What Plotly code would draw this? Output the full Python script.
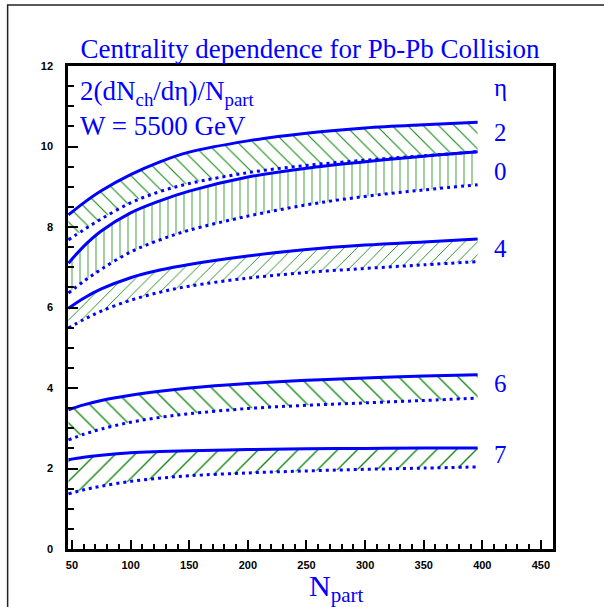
import plotly.graph_objects as go

# ---- data ----
npart = [47, 60, 75, 100, 125, 150, 200, 250, 300, 350, 396]

eta2_hi = [8.30, 8.60, 8.90, 9.30, 9.62, 9.86, 10.14, 10.33, 10.46, 10.54, 10.60]
eta2_lo = [7.68, 7.93, 8.20, 8.60, 8.88, 9.08, 9.35, 9.53, 9.66, 9.77, 9.87]
eta0_hi = [7.10, 7.52, 7.90, 8.35, 8.65, 8.89, 9.24, 9.46, 9.62, 9.76, 9.87]
eta0_lo = [6.36, 6.65, 6.95, 7.38, 7.68, 7.92, 8.27, 8.55, 8.76, 8.92, 9.05]
eta4_hi = [5.98, 6.23, 6.46, 6.74, 6.93, 7.07, 7.28, 7.44, 7.55, 7.63, 7.70]
eta4_lo = [5.49, 5.70, 5.91, 6.18, 6.38, 6.53, 6.73, 6.87, 6.97, 7.06, 7.14]
eta6_hi = [3.46, 3.58, 3.69, 3.82, 3.92, 4.00, 4.11, 4.19, 4.25, 4.30, 4.33]
eta6_lo = [2.71, 2.85, 2.98, 3.15, 3.27, 3.36, 3.49, 3.57, 3.63, 3.69, 3.75]
eta7_hi = [2.22, 2.28, 2.33, 2.39, 2.42, 2.44, 2.47, 2.49, 2.50, 2.51, 2.51]
eta7_lo = [1.37, 1.47, 1.56, 1.68, 1.76, 1.82, 1.89, 1.94, 1.98, 2.01, 2.04]

bands = [
    (eta2_lo, eta2_hi, "\\", 11),
    (eta0_lo, eta0_hi, "|", 8),
    (eta4_lo, eta4_hi, "/", 9),
    (eta6_lo, eta6_hi, "\\", 14),
    (eta7_lo, eta7_hi, "/", 14),
]
band_labels = ["2", "0", "4", "6", "7"]
label_y = [10.34, 9.38, 7.46, 4.10, 2.34]

x_ticks = [50, 100, 150, 200, 250, 300, 350, 400, 450]
y_ticks = [0, 2, 4, 6, 8, 10, 12]

BLUE = "#0000ff"
GREEN = "#138a13"
serif = "Liberation Serif, Times New Roman, serif"

fig = go.Figure()
for lo, hi, shape, size in bands:
    fig.add_trace(go.Scatter(
        x=npart, y=lo, mode="lines",
        line=dict(color=BLUE, width=3, dash="3px,4px", shape="spline"),
        showlegend=False, hoverinfo="skip"))
    fig.add_trace(go.Scatter(
        x=npart, y=hi, mode="lines", fill="tonexty",
        fillcolor="rgba(0,0,0,0)",
        fillpattern=dict(shape=shape, fgcolor=GREEN, fgopacity=1,
                         bgcolor="rgba(0,0,0,0)",
                         size=size, solidity=0.1, fillmode="overlay"),
        line=dict(color=BLUE, width=3, shape="spline"),
        showlegend=False, hoverinfo="skip"))

for lab, yv in zip(band_labels, label_y):
    fig.add_annotation(x=0.891, xref="paper", y=yv, yref="y", text=lab,
                       showarrow=False, xanchor="center", yanchor="middle",
                       font=dict(family=serif, size=25, color=BLUE))
fig.add_annotation(x=0.891, xref="paper", y=11.46, yref="y", text="η",
                   showarrow=False, xanchor="center", yanchor="middle",
                   font=dict(family=serif, size=25, color=BLUE))
fig.add_annotation(x=0.02, xref="paper", y=11.33, yref="y",
                   text="2(dN<sub>ch</sub>/dη)/N<sub>part</sub>",
                   showarrow=False, xanchor="left", yanchor="middle",
                   font=dict(family=serif, size=27, color=BLUE))
fig.add_annotation(x=0.02, xref="paper", y=10.50, yref="y",
                   text="W = 5500 GeV",
                   showarrow=False, xanchor="left", yanchor="middle",
                   font=dict(family=serif, size=27, color=BLUE))
# x-axis title
fig.add_annotation(x=(336 - 68.3) / 484.4, xref="paper", y=-0.080, yref="paper",
                   text="N<sub>part</sub>",
                   showarrow=False, xanchor="center", yanchor="middle",
                   font=dict(family=serif, size=30, color=BLUE))

# outer canvas frame (left and top edges visible)
fig.add_shape(type="rect", xref="paper", yref="paper",
              x0=(8 - 68.3) / 484.4, x1=1.2, y0=-0.2, y1=1 + (66 - 5) / 483.3,
              line=dict(color="#222222", width=1.5), layer="below")

fig.update_layout(
    width=604, height=607,
    margin=dict(l=68, r=51, t=66, b=58),
    paper_bgcolor="white", plot_bgcolor="white",
    title=dict(text="Centrality dependence for Pb-Pb Collision",
               x=310 / 604, xanchor="center", y=1 - 49 / 607, yanchor="middle",
               font=dict(family=serif, size=27, color=BLUE)),
    xaxis=dict(range=[46.6, 460.3], tickvals=x_ticks, ticks="inside",
               ticklen=9, tickwidth=2, tickcolor="black",
               minor=dict(dtick=10, tick0=50, ticks="inside", ticklen=5,
                          tickwidth=1.5, tickcolor="black"),
               showline=True, linewidth=2.5, linecolor="black", mirror=True,
               showgrid=False, zeroline=False, ticklabelstandoff=4,
               tickfont=dict(family="Liberation Sans", size=11, color="black",
                             weight="bold")),
    yaxis=dict(range=[0, 12], tickvals=y_ticks, ticks="inside",
               ticklen=10, tickwidth=2, tickcolor="black",
               minor=dict(dtick=0.5, ticks="inside", ticklen=6,
                          tickwidth=1.5, tickcolor="black"),
               showline=True, linewidth=2.5, linecolor="black", mirror=True,
               showgrid=False, zeroline=False, ticklabelstandoff=10,
               tickfont=dict(family="Liberation Sans", size=11, color="black",
                             weight="bold")),
)

fig.write_html("out.html")
